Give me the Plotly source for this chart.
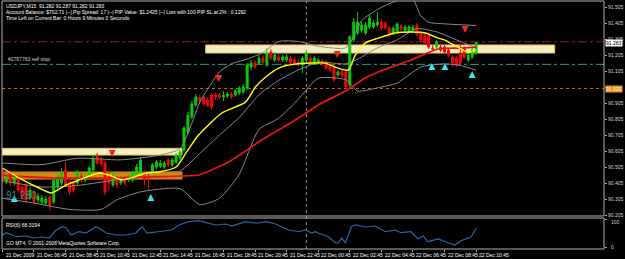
import plotly.graph_objects as go

# ---------------- data (USDJPY M15, bar index 0 = 21 Dec 04:45) ----------------
bars = list(range(121))
opens = [90.486, 90.411, 90.474, 90.405, 90.436, 90.380, 90.393, 90.311, 90.349, 90.299,
         90.286, 90.280, 90.318, 90.286, 90.380, 90.405, 90.486, 90.411, 90.405, 90.405,
         90.449, 90.424, 90.443, 90.486, 90.574, 90.549, 90.530, 90.443, 90.393, 90.436,
         90.405, 90.436, 90.424, 90.424, 90.443, 90.468, 90.474, 90.449, 90.474, 90.505,
         90.511, 90.505, 90.549, 90.518, 90.536, 90.561, 90.611, 90.724, 90.818, 90.893,
         90.936, 90.943, 90.924, 90.955, 90.955, 90.955, 90.943, 90.949, 90.961, 90.955,
         90.968, 90.974, 90.999, 91.130, 91.155, 91.155, 91.186, 91.143, 91.224, 91.174,
         91.193, 91.174, 91.174, 91.186, 91.174, 91.161, 91.143, 91.174, 91.186, 91.155,
         91.155, 91.168, 91.161, 91.143, 91.130, 91.080, 91.099, 91.099, 91.018, 91.299,
         91.343, 91.361, 91.343, 91.380, 91.380, 91.393, 91.411, 91.405, 91.374, 91.343,
         91.349, 91.386, 91.361, 91.355, 91.361, 91.393, 91.343, 91.330, 91.330, 91.249,
         91.255, 91.255, 91.255, 91.236, 91.193, 91.186, 91.218, 91.249, 91.174, 91.193,
         91.218]
highs = [90.499, 90.474, 90.486, 90.461, 90.449, 90.393, 90.405, 90.380, 90.361, 90.343,
         90.330, 90.324, 90.330, 90.436, 90.461, 90.499, 90.536, 90.424, 90.418, 90.486,
         90.468, 90.468, 90.511, 90.580, 90.593, 90.568, 90.543, 90.474, 90.474, 90.449,
         90.449, 90.449, 90.461, 90.480, 90.524, 90.568, 90.486, 90.468, 90.530, 90.549,
         90.549, 90.543, 90.561, 90.561, 90.593, 90.611, 90.761, 90.849, 90.918, 90.961,
         90.955, 90.955, 90.943, 90.968, 90.968, 90.968, 90.980, 90.974, 90.974, 90.993,
         91.011, 91.024, 91.155, 91.174, 91.174, 91.205, 91.205, 91.249, 91.243, 91.224,
         91.211, 91.205, 91.211, 91.199, 91.186, 91.180, 91.199, 91.236, 91.205, 91.199,
         91.186, 91.180, 91.174, 91.155, 91.143, 91.111, 91.111, 91.111, 91.330, 91.436,
         91.474, 91.411, 91.411, 91.455, 91.424, 91.474, 91.424, 91.418, 91.386, 91.386,
         91.411, 91.399, 91.393, 91.393, 91.393, 91.405, 91.355, 91.343, 91.343, 91.268,
         91.299, 91.268, 91.268, 91.249, 91.205, 91.199, 91.280, 91.261, 91.218, 91.249,
         91.287]
lows = [90.405, 90.399, 90.386, 90.386, 90.349, 90.299, 90.280, 90.299, 90.274, 90.280,
        90.268, 90.261, 90.236, 90.274, 90.368, 90.393, 90.380, 90.330, 90.343, 90.393,
        90.405, 90.411, 90.430, 90.474, 90.518, 90.505, 90.330, 90.361, 90.380, 90.374,
        90.393, 90.386, 90.411, 90.411, 90.430, 90.455, 90.393, 90.361, 90.461, 90.493,
        90.499, 90.493, 90.505, 90.505, 90.524, 90.549, 90.599, 90.711, 90.805, 90.880,
        90.905, 90.886, 90.880, 90.861, 90.924, 90.930, 90.918, 90.936, 90.930, 90.943,
        90.955, 90.961, 90.986, 91.111, 91.118, 91.143, 91.149, 91.130, 91.174, 91.161,
        91.161, 91.161, 91.161, 91.143, 91.143, 91.136, 91.093, 91.161, 91.149, 91.143,
        91.143, 91.136, 91.111, 91.099, 91.036, 91.068, 91.061, 90.993, 91.005, 91.286,
        91.330, 91.343, 91.330, 91.368, 91.368, 91.380, 91.361, 91.361, 91.318, 91.330,
        91.336, 91.355, 91.349, 91.343, 91.349, 91.324, 91.286, 91.268, 91.243, 91.230,
        91.243, 91.224, 91.211, 91.193, 91.130, 91.130, 91.143, 91.180, 91.161, 91.180,
        91.205]
closes = [90.424, 90.455, 90.405, 90.449, 90.361, 90.318, 90.299, 90.361, 90.286, 90.324,
          90.311, 90.305, 90.268, 90.424, 90.443, 90.474, 90.393, 90.349, 90.361, 90.474,
          90.424, 90.449, 90.499, 90.561, 90.530, 90.524, 90.349, 90.405, 90.455, 90.393,
          90.436, 90.405, 90.449, 90.468, 90.505, 90.549, 90.424, 90.436, 90.518, 90.536,
          90.530, 90.530, 90.518, 90.549, 90.580, 90.599, 90.749, 90.830, 90.899, 90.943,
          90.918, 90.899, 90.893, 90.880, 90.943, 90.943, 90.955, 90.961, 90.943, 90.980,
          90.999, 91.005, 91.143, 91.155, 91.130, 91.186, 91.161, 91.218, 91.186, 91.205,
          91.174, 91.193, 91.193, 91.155, 91.155, 91.149, 91.186, 91.218, 91.161, 91.186,
          91.174, 91.149, 91.124, 91.111, 91.049, 91.099, 91.080, 91.005, 91.318, 91.411,
          91.411, 91.393, 91.393, 91.436, 91.405, 91.411, 91.374, 91.374, 91.330, 91.374,
          91.399, 91.368, 91.380, 91.380, 91.380, 91.336, 91.299, 91.280, 91.255, 91.243,
          91.286, 91.236, 91.224, 91.205, 91.155, 91.143, 91.155, 91.193, 91.205, 91.236,
          91.283]

# fast MA (yellow) and slow MA (red), read at sample bars
fast_ma_bar = [0, 4.3, 9.3, 12.4, 16.2, 19.4, 24.5, 27, 30.3, 33.3, 36.4, 39.6, 44, 46.5, 49.7,
               55.6, 61.6, 64.1, 66.7, 70, 74.2, 78.3, 81.8, 84.3, 87.6, 89.4, 91.9, 95.2,
               99.5, 103.5, 107.1, 110.4, 112.1, 115.4, 117.9, 120]
fast_ma_val = [90.499, 90.436, 90.374, 90.343, 90.393, 90.424, 90.468, 90.455, 90.424, 90.443,
               90.468, 90.474, 90.505, 90.593, 90.705, 90.843, 90.911, 91.005, 91.068, 91.124,
               91.149, 91.155, 91.155, 91.130, 91.111, 91.205, 91.280, 91.311, 91.343, 91.349,
               91.343, 91.311, 91.299, 91.255, 91.224, 91.236]
slow_ma_bar = [0, 6.8, 14.4, 24.5, 37.1, 45.5, 49.7, 53.5, 57.3, 61.2, 65.7, 74.2, 80, 86.9,
               91.9, 95.2, 103.5, 110.4, 116.2, 120]
slow_ma_val = [90.455, 90.443, 90.436, 90.436, 90.443, 90.449, 90.455, 90.493, 90.536, 90.599,
               90.674, 90.799, 90.893, 90.980, 91.061, 91.099, 91.174, 91.243, 91.249, 91.255]

# Bollinger bands (grey): upper, middle, lower, read at sample bars
bb_up_bar = [0, 10, 19, 30, 40, 45, 48, 50, 53, 55, 58, 62, 66, 70, 75, 80, 87, 89, 91,
             95, 100, 104, 106, 108, 112, 120]
bb_up_val = [90.530, 90.520, 90.560, 90.550, 90.580, 90.620, 90.780, 90.910, 91.030, 91.100,
             91.150, 91.180, 91.220, 91.290, 91.290, 91.260, 91.250, 91.320, 91.420,
             91.490, 91.545, 91.550, 91.450, 91.410, 91.400, 91.390]
bb_mid_bar = [0, 10, 19, 30, 40, 45, 50, 55, 60, 65, 70, 75, 80, 87, 90, 95, 100, 105,
              110, 115, 120]
bb_mid_val = [90.420, 90.380, 90.390, 90.430, 90.470, 90.480, 90.590, 90.705, 90.815, 90.957,
              91.047, 91.112, 91.160, 91.150, 91.180, 91.250, 91.300, 91.370, 91.350, 91.300,
              91.250]
bb_dn_bar = [0, 8, 17, 25, 29, 35, 45, 50, 55, 60, 65, 70, 75, 80, 87, 90, 95, 100,
             106, 112, 116, 120]
bb_dn_val = [90.310, 90.280, 90.240, 90.240, 90.300, 90.350, 90.370, 90.270, 90.310, 90.460,
             90.740, 90.810, 90.930, 91.060, 91.050, 90.980, 91.000, 91.030, 91.130, 91.150,
             91.140, 91.110]

# RSI(6), read at sample bars
rsi_bar = [0, 1, 3.5, 6, 7.6, 10, 11.9, 13.6, 15.2, 16.2, 17.4, 19.4, 21.2, 23.7, 24.5, 26.3,
           28.8, 31.3, 33.8, 35.4, 36.6, 38.9, 41.4, 42.9, 44.7, 47.2, 49.7, 52.3, 54, 56.6,
           58.1, 61.6, 63.1, 64.9, 66.7, 69.2, 72.5, 75, 76.8, 78.3, 79.3, 80, 82.6, 84.3,
           85.1, 85.9, 86.9, 88.4, 89.6, 91.9, 94.4, 97, 99.5, 101, 103.5, 105.3, 106.6,
           107.8, 110.4, 112.9, 114.6, 116.2, 117.9, 118.7, 120]
rsi_val = [44.6, 52.9, 38.6, 41, 33.9, 37.5, 33.9, 62.5, 74.3, 69.6, 44.6, 56.4, 51.8, 74.3,
           68.6, 51.8, 44.6, 44.6, 51.8, 74.3, 51.8, 56.4, 60, 62.5, 80.4, 92.1, 95.7, 87.5,
           80.4, 83.9, 76.8, 92.1, 88.6, 87.5, 92.1, 83.9, 62.5, 56.4, 62.5, 51.8, 56.4, 51.8,
           38.6, 17.1, 16.1, 33.9, 17.1, 74.3, 80.4, 73.2, 76.8, 56.4, 62.5, 52.9, 56.4, 30.4,
           41.1, 20.7, 30.4, 17.1, 8.9, 24.3, 33.9, 37.5, 68.3]

# signal arrows
sell_arrow_bar = [27.8, 54.8, 84.8, 117.2]
sell_arrow_val = [90.568, 91.036, 91.186, 91.343]
buy_arrow_bar = [3, 37.6, 108.8, 112.1, 119]
buy_arrow_val = [90.330, 90.336, 91.155, 91.155, 91.105]

# horizontal levels and zones
order_line = 91.288
sell_stop_line = 91.147
orange_line = 90.996
zone_upper = (51.5, 139.9, 91.218, 91.268)
zone_left_white = (-1, 45.5, 90.580, 90.622)
zone_left_orange = (-1, 45.5, 90.430, 90.474)
day_separator_bar = 77

price_ticks = [90.205, 90.305, 90.405, 90.505, 90.605, 90.705, 90.805, 90.905, 91.005,
               91.105, 91.205, 91.305, 91.405, 91.505]
time_tick_bars = [0, 8, 16, 24, 32, 40, 48, 56, 64, 72, 80, 88, 96, 104, 112, 120]
time_tick_labels = ["21 Dec 2009", "21 Dec 06:45", "21 Dec 08:45", "21 Dec 10:45",
                    "21 Dec 12:45", "21 Dec 14:45", "21 Dec 16:45", "21 Dec 18:45",
                    "21 Dec 20:45", "21 Dec 22:45", "22 Dec 00:45", "22 Dec 02:45",
                    "22 Dec 04:45", "22 Dec 06:45", "22 Dec 08:45", "22 Dec 10:45"]
current_price = 91.283
orange_box_text = "91.000"

# ---------------- figure ----------------
FONT = "Liberation Sans"
XR = [-0.1, 152.4]
fig = go.Figure()

grey = "#8a8a8a"
for bx, by in [(bb_up_bar, bb_up_val), (bb_mid_bar, bb_mid_val), (bb_dn_bar, bb_dn_val)]:
    fig.add_trace(go.Scatter(x=bx, y=by, mode="lines",
                             line=dict(color=grey, width=1, shape="spline", smoothing=0.6), hoverinfo="skip"))

fig.add_trace(go.Candlestick(
    x=bars, open=opens, high=highs, low=lows, close=closes,
    increasing=dict(line=dict(color="#00d000", width=1), fillcolor="#00d000"),
    decreasing=dict(line=dict(color="#ff0000", width=1), fillcolor="#ff0000"),
    whiskerwidth=0, hoverinfo="skip", xaxis="x", yaxis="y"))

fig.add_trace(go.Scatter(x=slow_ma_bar, y=slow_ma_val, mode="lines", line=dict(color="#ee1111", width=1.7, shape="spline", smoothing=0.6), hoverinfo="skip"))
fig.add_trace(go.Scatter(x=fast_ma_bar, y=fast_ma_val, mode="lines", line=dict(color="#ffff00", width=1.4, shape="spline", smoothing=0.6), hoverinfo="skip"))

fig.add_trace(go.Scatter(x=sell_arrow_bar, y=sell_arrow_val, mode="markers",
                         marker=dict(symbol="arrow-down", size=7, color="#ff2020", line=dict(width=0)), hoverinfo="skip"))
fig.add_trace(go.Scatter(x=buy_arrow_bar, y=buy_arrow_val, mode="markers",
                         marker=dict(symbol="arrow-up", size=7, color="#30e8e8", line=dict(width=0)), hoverinfo="skip"))

fig.add_trace(go.Scatter(x=rsi_bar, y=rsi_val, mode="lines", xaxis="x2", yaxis="y2",
                         line=dict(color="#2468a8", width=1.2), hoverinfo="skip"))

shapes = []
for (x0, x1, y0, y1), fc, lc in [(zone_upper, "#f4eec8", "#e6c850"),
                                 (zone_left_white, "#f4eec8", "#e6c850"),
                                 (zone_left_orange, "#c88a10", "#c88a10")]:
    shapes.append(dict(type="rect", xref="x", yref="y", x0=x0, x1=x1, y0=y0, y1=y1,
                       fillcolor=fc, line=dict(color=lc, width=1), layer="below"))
shapes.append(dict(type="line", xref="paper", yref="y", x0=0, x1=1, y0=order_line, y1=order_line,
                   line=dict(color="#a01818", width=1, dash="dashdot"), layer="below"))
shapes.append(dict(type="line", xref="paper", yref="y", x0=0, x1=1, y0=sell_stop_line, y1=sell_stop_line,
                   line=dict(color="#18a090", width=1, dash="dashdot"), layer="below"))
shapes.append(dict(type="line", xref="paper", yref="y", x0=0, x1=1, y0=orange_line, y1=orange_line,
                   line=dict(color="#c86018", width=1, dash="dot"), layer="below"))
shapes.append(dict(type="line", xref="x", yref="paper", x0=day_separator_bar, x1=day_separator_bar, y0=0, y1=1,
                   line=dict(color="#909090", width=1, dash="dot"), layer="below"))
# frames
shapes.append(dict(type="rect", xref="paper", yref="paper", x0=0, x1=1, y0=0.1331, y1=1,
                   line=dict(color="#b0b0b0", width=1), fillcolor="rgba(0,0,0,0)"))
shapes.append(dict(type="rect", xref="paper", yref="paper", x0=0, x1=1, y0=0, y1=0.125,
                   line=dict(color="#b0b0b0", width=1), fillcolor="rgba(0,0,0,0)"))

ann = []
txt = dict(family=FONT, size=5, color="#ffffff")
ann.append(dict(text="USDJPY,M15  91.282 91.287 91.282 91.283", x=0.004, y=0.999, xref="paper", yref="paper",
                xanchor="left", yanchor="top", showarrow=False, font=txt))
ann.append(dict(text="Account Balance: $702.71 |--| Pip Spread: 17 |--| PIP Value: $1.2425 |--| Lots with 100 PIP SL at 2% : 0.1292",
                x=0.004, y=0.975, xref="paper", yref="paper", xanchor="left", yanchor="top", showarrow=False, font=txt))
ann.append(dict(text="Time Left on Current Bar: 0 Hours 9 Minutes 0 Seconds", x=0.004, y=0.951, xref="paper", yref="paper",
                xanchor="left", yanchor="top", showarrow=False, font=txt))
ann.append(dict(text="#2767763 sell stop", x=0.006, y=sell_stop_line, xref="paper", yref="y",
                xanchor="left", yanchor="bottom", showarrow=False, font=dict(family=FONT, size=5, color="#d0d0d0")))
ann.append(dict(text="91.280", x=0.003, y=90.33, xref="paper", yref="y", xanchor="left", yanchor="middle",
                showarrow=False, font=dict(family=FONT, size=10, color="#2a8888")))
ann.append(dict(text="RSI(6) 68.3194", x=0.004, y=0.118, xref="paper", yref="paper", xanchor="left", yanchor="top",
                showarrow=False, font=txt))
ann.append(dict(text="GO MT4, © 2001-2008 MetaQuotes Software Corp.", x=0.004, y=0.006, xref="paper", yref="paper",
                xanchor="left", yanchor="bottom", showarrow=False, font=txt))
ann.append(dict(text=f"{current_price:.3f}", x=1.002, y=current_price, xref="paper", yref="y", xanchor="left",
                yanchor="middle", showarrow=False, bgcolor="#ffffff", borderpad=0,
                font=dict(family=FONT, size=5, color="#000000")))
ann.append(dict(text=orange_box_text, x=1.002, y=orange_line, xref="paper", yref="y", xanchor="left",
                yanchor="middle", showarrow=False, bgcolor="#e89018", borderpad=0,
                font=dict(family=FONT, size=5, color="#ffffff")))
ann.append(dict(text="100", x=1.008, y=0.11, xref="paper", yref="paper", xanchor="left", yanchor="middle",
                showarrow=False, font=dict(family=FONT, size=5, color="#d0d0d0")))
ann.append(dict(text="0", x=1.008, y=0.008, xref="paper", yref="paper", xanchor="left", yanchor="middle",
                showarrow=False, font=dict(family=FONT, size=5, color="#d0d0d0")))
for b, lab in zip(time_tick_bars, time_tick_labels):
    ann.append(dict(text=lab, x=b + 0.3, y=-0.004, xref="x2", yref="paper", xanchor="left", yanchor="top",
                    showarrow=False, font=dict(family=FONT, size=5, color="#ffffff")))

# the 91.005 label sits under the orange price box, as in the terminal
tick_text = ["" if abs(v - 91.005) < 1e-9 else f"{v:.3f}" for v in price_ticks]

fig.update_layout(
    width=625, height=259, margin=dict(l=2, r=19, t=1, b=10),
    paper_bgcolor="#000000", plot_bgcolor="#000000", showlegend=False,
    shapes=shapes, annotations=ann,
    xaxis=dict(domain=[0, 1], range=XR, showgrid=False, zeroline=False, showticklabels=False,
               ticks="", rangeslider=dict(visible=False), anchor="y"),
    yaxis=dict(domain=[0.1331, 1], range=[90.199, 91.543], side="right", showgrid=False, zeroline=False,
               tickvals=price_ticks, ticktext=tick_text,
               tickfont=dict(family=FONT, size=5, color="#d0d0d0"), ticks="outside", ticklen=2,
               tickcolor="#b0b0b0", anchor="x"),
    xaxis2=dict(domain=[0, 1], range=XR, showgrid=False, zeroline=False, showticklabels=False,
                tickvals=time_tick_bars, ticks="outside", ticklen=2, tickcolor="#b0b0b0", anchor="y2"),
    yaxis2=dict(domain=[0, 0.125], range=[-5.4, 105.4], side="right", showgrid=False, zeroline=False,
                showticklabels=False, tickvals=[0, 100],
                ticks="outside", ticklen=2, tickcolor="#b0b0b0", anchor="x2"),
)

fig.write_html("out.html", config={"displayModeBar": False})
